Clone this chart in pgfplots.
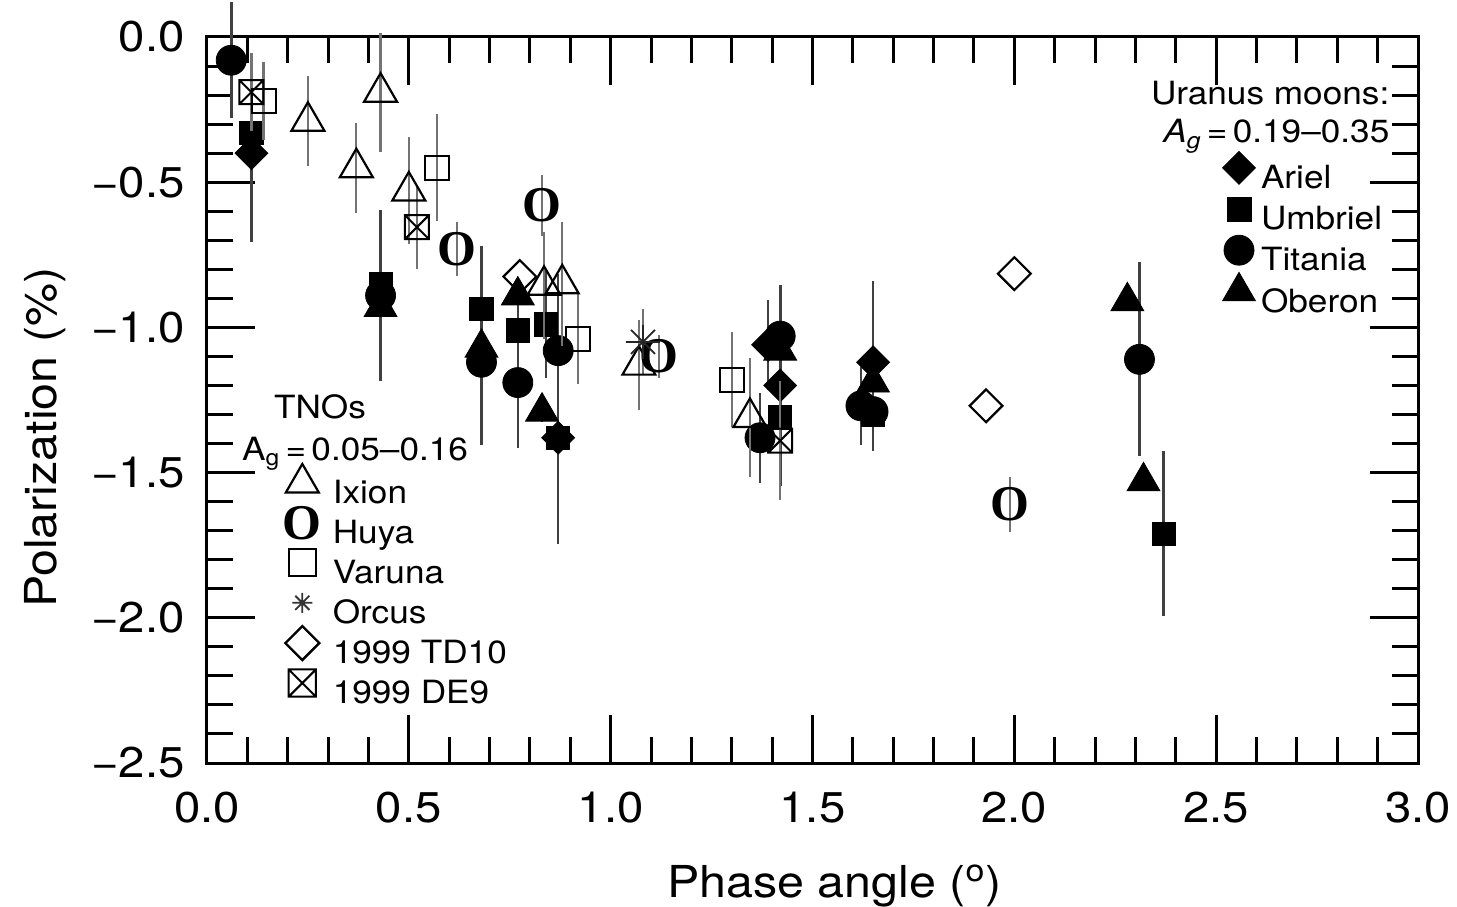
\documentclass[border=0pt]{standalone}
\usepackage{pgfplots}
\pgfplotsset{compat=1.18}
\usepackage{fontspec}
\setmainfont{TeX Gyre Heros}[FakeStretch=1.1]
\newfontfamily\huyaserif{Liberation Serif}
\usetikzlibrary{plotmarks}

\pgfdeclareplotmark{boxx}{%
  \pgfpathrectangle{\pgfqpoint{-\pgfplotmarksize}{-\pgfplotmarksize}}{\pgfqpoint{2\pgfplotmarksize}{2\pgfplotmarksize}}%
  \pgfpathmoveto{\pgfqpoint{-\pgfplotmarksize}{-\pgfplotmarksize}}%
  \pgfpathlineto{\pgfqpoint{\pgfplotmarksize}{\pgfplotmarksize}}%
  \pgfpathmoveto{\pgfqpoint{-\pgfplotmarksize}{\pgfplotmarksize}}%
  \pgfpathlineto{\pgfqpoint{\pgfplotmarksize}{-\pgfplotmarksize}}%
  \pgfusepathqstroke}
\pgfdeclareplotmark{star8}{%
  \pgfpathmoveto{\pgfqpoint{-\pgfplotmarksize}{0pt}}\pgfpathlineto{\pgfqpoint{\pgfplotmarksize}{0pt}}%
  \pgfpathmoveto{\pgfqpoint{0pt}{-\pgfplotmarksize}}\pgfpathlineto{\pgfqpoint{0pt}{\pgfplotmarksize}}%
  \pgfpathmoveto{\pgfqpoint{-.707\pgfplotmarksize}{-.707\pgfplotmarksize}}\pgfpathlineto{\pgfqpoint{.707\pgfplotmarksize}{.707\pgfplotmarksize}}%
  \pgfpathmoveto{\pgfqpoint{-.707\pgfplotmarksize}{.707\pgfplotmarksize}}\pgfpathlineto{\pgfqpoint{.707\pgfplotmarksize}{-.707\pgfplotmarksize}}%
  \pgfusepathqstroke}

\newcommand{\lgfont}{\fontsize{16}{16}\selectfont}
\newcommand{\huyafont}{\fontsize{25}{25}\selectfont\huyaserif\bfseries}

\pgfplotsset{
  base/.style={
    at={(0,0)}, anchor=south west, scale only axis,
    width=605.5pt, height=363pt,
    xmin=0, xmax=3, ymin=-2.5, ymax=0, clip=false,
  },
  tnoerr/.style={/pgfplots/error bars/y dir=both, /pgfplots/error bars/y explicit,
    /pgfplots/error bars/error bar style={draw=black!55, line width=1.1pt},
    /pgfplots/error bars/error mark options={draw=black!55, line width=1.1pt, mark size=5pt}},
  moonerr/.style={/pgfplots/error bars/y dir=both, /pgfplots/error bars/y explicit,
    /pgfplots/error bars/error bar style={draw=black!75, line width=1.3pt},
    /pgfplots/error bars/error mark options={draw=black!75, line width=1.3pt, mark size=5pt}},
}

\begin{document}
\begin{tikzpicture}
\begin{axis}[base,
  xtick={0,0.5,1,1.5,2,2.5,3}, xticklabels={0.0,0.5,1.0,1.5,2.0,2.5,3.0},
  ytick={-2.5,-2,-1.5,-1,-0.5,0}, yticklabels={−2.5,−2.0,−1.5,−1.0,−0.5,0.0},
  minor x tick num=4, minor y tick num=4,
  tick align=inside, major tick length=24pt, minor tick length=13pt,
  tick style={black, line width=1.5pt},
  axis line style={line width=1.5pt},
  xticklabel style={font=\fontsize{21.5}{21.5}\selectfont, anchor=base, inner sep=0pt, yshift=-29.5pt},
  yticklabel style={font=\fontsize{21.5}{21.5}\selectfont, anchor=east, inner sep=0pt, xshift=-11pt},
  xlabel={Phase angle (\textsuperscript{o})}, ylabel={Polarization (\%)},
  xlabel style={font=\fontsize{22}{22}\selectfont, at={(axis description cs:0.518,-0.1846)}, anchor=base},
  ylabel style={font=\fontsize{22}{22}\selectfont, at={(axis description cs:-0.124,0.448)}, anchor=base},
  legend image code/.code={\draw[#1] plot coordinates {(0pt,5.25pt)}; \path[draw=none, fill=none] (-9pt,-5pt) rectangle (9pt,15.5pt);},
  legend cell align=left,
  legend style={at={(axis cs:2.512,-0.380)}, anchor=north west, draw=none, fill=none,
    inner sep=0pt, outer sep=0pt, font=\lgfont, row sep=-1.5pt, column sep=2pt, nodes={inner sep=0pt}},
]
% Umbriel
\addplot[forget plot, only marks, mark=square*, mark size=5.8pt, draw=black, fill=black, moonerr] coordinates {
 (0.11,-0.33) +- (0,0.17)
 (0.43,-0.85) +- (0,0.20)
 (0.68,-0.935) +- (0,0.18)
 (0.77,-1.01) +- (0,0.12)
 (0.84,-0.99) +- (0,0.15)
 (0.87,-1.38) +- (0,0.33)
 (1.42,-1.31) +- (0,0.20)
 (1.65,-1.30) +- (0,0.08)
 (2.37,-1.71) +- (0,0.25)
};
% Ariel
\addplot[forget plot, only marks, mark=square*, mark options={rotate=45, fill=black, draw=black}, mark size=5.8pt, draw=black, fill=black, moonerr] coordinates {
 (0.11,-0.40) +- (0,0.27)
 (0.87,-1.38) +- (0,0.33)
 (1.39,-1.06) +- (0,0.12)
 (1.42,-1.20) +- (0,0)
 (1.65,-1.12) +- (0,0.245)
};
% Titania
\addplot[forget plot, only marks, mark=*, mark size=7.5pt, draw=black, fill=black, moonerr] coordinates {
 (0.06,-0.08) +- (0,0.165)
 (0.43,-0.89) +- (0,0.26)
 (0.68,-1.12) +- (0,0.25)
 (0.77,-1.19) +- (0,0.19)
 (0.87,-1.08) +- (0,0.23)
 (1.37,-1.38) +- (0,0.12)
 (1.42,-1.03) +- (0,0.14)
 (1.62,-1.27) +- (0,0.10)
 (1.65,-1.29) +- (0,0.10)
 (2.31,-1.11) +- (0,0.30)
};
% Oberon
\addplot[forget plot, only marks, mark=triangle*, mark size=9.5pt, draw=black, fill=black, moonerr] coordinates {
 (0.43,-0.93) +- (0,0.13)
 (0.68,-1.07) +- (0,0)
 (0.77,-0.89) +- (0,0)
 (0.83,-1.29) +- (0,0)
 (1.42,-1.08) +- (0,0)
 (1.65,-1.19) +- (0,0)
 (2.28,-0.91) +- (0,0)
 (2.32,-1.53) +- (0,0)
};
\addlegendimage{only marks, mark=square*, mark options={rotate=45, fill=black, draw=black}, mark size=5.8pt}
\addlegendentry{Ariel}
\addlegendimage{only marks, mark=square*, mark size=6pt, draw=black, fill=black}
\addlegendentry{Umbriel}
\addlegendimage{only marks, mark=*, mark size=7.5pt, draw=black, fill=black}
\addlegendentry{Titania}
\addlegendimage{only marks, mark=triangle*, mark size=9.5pt, draw=black, fill=black}
\addlegendentry{Oberon}
\node[anchor=base east, font=\lgfont, inner sep=0pt] at (axis cs:2.93,-0.234) {Uranus moons:};
\node[anchor=base east, font=\lgfont, inner sep=0pt] at (axis cs:2.93,-0.365) {\itshape A\textsubscript{g}\upshape\,=\,0.19–0.35};
\end{axis}

\begin{axis}[base, hide axis,
  legend image code/.code={\draw[#1] plot coordinates {(0pt,5.25pt)}; \path[draw=none, fill=none] (-9pt,-5pt) rectangle (9pt,15pt);},
  legend cell align=left,
  legend style={at={(axis cs:0.188,-1.4685)}, anchor=north west, draw=none, fill=none,
    inner sep=0pt, outer sep=0pt, font=\lgfont, row sep=-1.6pt, column sep=5.5pt, nodes={inner sep=0pt}},
]
% Ixion
\addplot[forget plot, only marks, mark=triangle, mark size=9.5pt, draw=black, line width=1.1pt, tnoerr] coordinates {
 (0.25,-0.29) +- (0,0.12)
 (0.37,-0.45) +- (0,0.12)
 (0.43,-0.19) +- (0,0.17)
 (0.50,-0.53) +- (0,0.15)
 (0.835,-0.855) +- (0,0.15)
 (0.88,-0.85) +- (0,0.18)
 (1.07,-1.13) +- (0,0.12)
 (1.345,-1.31) +- (0,0.17)
};
% Huya
\addplot[forget plot, only marks, mark=text, text mark={\huyafont O}, tnoerr] coordinates {
 (0.62,-0.73) +- (0,0.06)
 (0.83,-0.58) +- (0,0.07)
 (1.12,-1.10) +- (0,0.04)
 (1.99,-1.61) +- (0,0.06)
};
% Varuna
\addplot[forget plot, only marks, mark=square, mark size=6pt, draw=black, line width=1pt, tnoerr] coordinates {
 (0.14,-0.22) +- (0,0.10)
 (0.57,-0.45) +- (0,0.15)
 (0.92,-1.04) +- (0,0.12)
 (1.30,-1.18) +- (0,0.13)
};
% Orcus
\addplot[forget plot, only marks, mark=star8, mark size=8.5pt, draw=black!85, line width=0.9pt, tnoerr] coordinates {
 (1.08,-1.05) +- (0,0.08)
};
% 1999 TD10
\addplot[forget plot, only marks, mark=square, mark options={rotate=45}, mark size=5.8pt, draw=black, line width=1.1pt] coordinates {
 (0.775,-0.825)
 (1.93,-1.27)
 (2.00,-0.815)
};
% 1999 DE9
\addplot[forget plot, only marks, mark=boxx, mark size=6pt, draw=black, line width=1pt, tnoerr] coordinates {
 (0.11,-0.19) +- (0,0.10)
 (0.52,-0.655) +- (0,0.11)
 (1.42,-1.39) +- (0,0.17)
};
\addlegendimage{only marks, mark=triangle, mark size=9.5pt, line width=1.1pt}
\addlegendentry{Ixion}
\addlegendimage{only marks, mark=text, text mark={\huyafont O}}
\addlegendentry{Huya}
\addlegendimage{only marks, mark=square, mark size=6.8pt, line width=1pt}
\addlegendentry{Varuna}
\addlegendimage{only marks, mark=star8, mark size=5pt, line width=0.9pt, draw=black!80}
\addlegendentry{Orcus}
\addlegendimage{only marks, mark=square, mark options={rotate=45}, mark size=6pt, line width=1.2pt}
\addlegendentry{1999 TD10}
\addlegendimage{only marks, mark=boxx, mark size=6.8pt, line width=1pt}
\addlegendentry{1999 DE9}
\node[anchor=base, font=\lgfont, inner sep=0pt] at (axis cs:0.28,-1.315) {TNOs};
\node[anchor=base west, font=\lgfont, inner sep=0pt] at (axis cs:0.086,-1.457) {A\textsubscript{g}\,=\,0.05–0.16};
\end{axis}
\pgfresetboundingbox
\path (-103.5pt,-71.5pt) rectangle (625pt,381.5pt);
\end{tikzpicture}
\end{document}
